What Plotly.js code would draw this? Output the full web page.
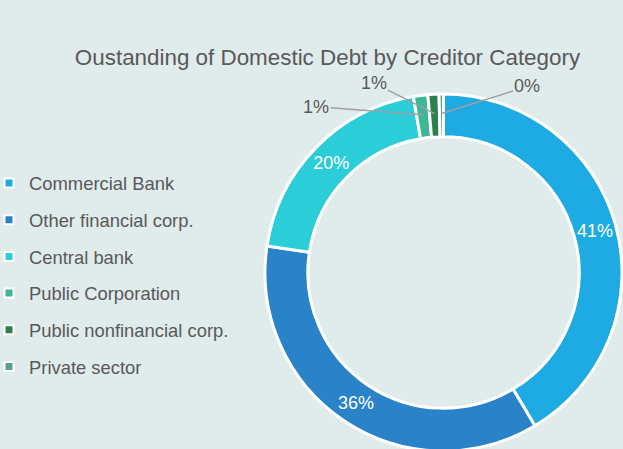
<!DOCTYPE html>
<html>
<head>
<meta charset="utf-8">
<script src="https://cdn.plot.ly/plotly-3.0.1.min.js"></script>
<style>
html, body { margin: 0; padding: 0; overflow: hidden; background: #e0ebeb; }
#chart { width: 623px; height: 460px; }
</style>
</head>
<body>
<div id="chart"></div>
<script>
const categories = ["Commercial Bank", "Other financial corp.", "Central bank", "Public Corporation", "Public nonfinancial corp.", "Private sector"];
const shares = [41.4, 35.9, 19.9, 1.3, 1.0, 0.4];
const colors = ["#1eaae2", "#2a82c8", "#2bcdd8", "#3db896", "#2f7f4e", "#5a9e94"];
const labelPositions = ["inside", "inside", "inside", "none", "none", "none"];
// offsets (px) of the outside labels of the thin slices, from their anchor on the ring
const outsideLabelOffsets = [null, null, null, [-107, -8], [-61, -31], [86, -27]];

const W = 623, H = 460;
const dom = { x0: 265, x1: 622, y0: 94, y1: 451 }; // pie box in pixels
const cx = (dom.x0 + dom.x1) / 2, cy = (dom.y0 + dom.y1) / 2, R = (dom.x1 - dom.x0) / 2;
const hole = 0.76;

const pie = {
  type: "pie",
  labels: categories,
  values: shares,
  sort: false,
  direction: "clockwise",
  rotation: 0,
  hole: hole,
  marker: { colors: colors, line: { color: "#ffffff", width: 3 } },
  texttemplate: "%{percent:.0%}",
  textposition: labelPositions,
  insidetextorientation: "horizontal",
  insidetextfont: { color: "#ffffff", size: 18, family: "Liberation Sans, Arial, sans-serif" },
  domain: { x: [dom.x0 / W, dom.x1 / W], y: [1 - dom.y1 / H, 1 - dom.y0 / H] },
  showlegend: false,
  hoverinfo: "label+percent"
};

const legendTraces = categories.map((c, i) => ({
  type: "scatter",
  mode: "markers",
  x: [null],
  y: [null],
  name: c,
  legendgroup: "g" + i,
  marker: { symbol: "square", size: 9, color: colors[i], line: { color: "#ffffff", width: 2 } },
  hoverinfo: "skip"
}));

// leader-line labels for the thin slices, anchored at each slice's mid angle
const total = shares.reduce((a, b) => a + b, 0);
const annotations = [];
let cum = 0;
shares.forEach((v, i) => {
  const mid = (cum + v / 2) / total;
  cum += v;
  const off = outsideLabelOffsets[i];
  if (!off) return;
  const ang = mid * 2 * Math.PI;
  const r = R * (1 + hole) / 2 + 2;
  const px = cx + r * Math.sin(ang), py = cy - r * Math.cos(ang);
  annotations.push({
    xref: "paper", yref: "paper",
    x: px / W, y: 1 - py / H,
    text: Math.round(v / total * 100) + "%",
    showarrow: true, arrowhead: 0, arrowwidth: 1.5, arrowcolor: "#a0a0a0",
    ax: off[0], ay: off[1],
    font: { size: 18, color: "#595959" }
  });
});

const layout = {
  width: W,
  height: H,
  paper_bgcolor: "#e0ebeb",
  plot_bgcolor: "#e0ebeb",
  margin: { l: 0, r: 0, t: 0, b: 0, autoexpand: false },
  font: { family: "Liberation Sans, Arial, sans-serif", color: "#595959" },
  title: {
    text: "Oustanding of Domestic Debt by Creditor Category",
    font: { size: 22.4, color: "#595959" },
    xref: "container", yref: "container",
    x: 327.5 / W, y: 1 - 57 / H,
    xanchor: "center", yanchor: "middle"
  },
  xaxis: { visible: false },
  yaxis: { visible: false },
  annotations: annotations,
  showlegend: true,
  legend: {
    xref: "paper", yref: "paper",
    x: -11 / W, y: 1 - 164.5 / H,
    xanchor: "left", yanchor: "top",
    font: { size: 18.4, color: "#595959" },
    tracegroupgap: 9.8,
    bgcolor: "rgba(0,0,0,0)"
  }
};

Plotly.newPlot("chart", [pie].concat(legendTraces), layout, { displayModeBar: false, staticPlot: true });
</script>
</body>
</html>
